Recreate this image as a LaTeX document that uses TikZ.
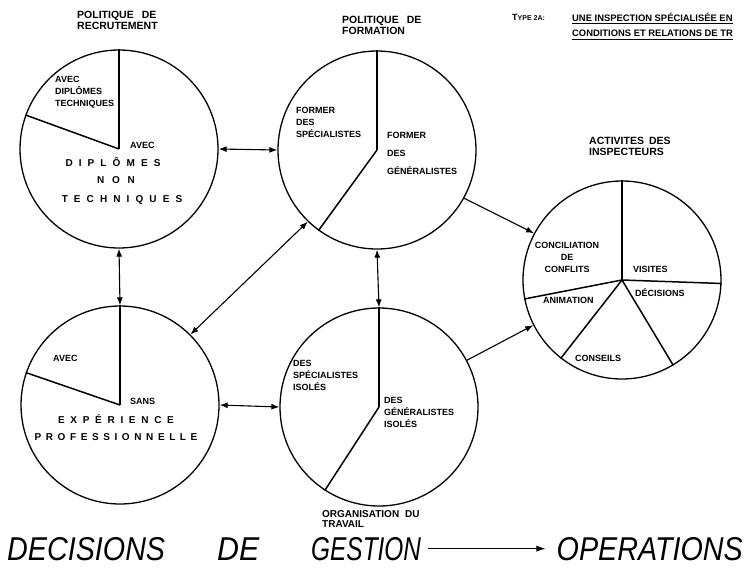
\documentclass[tikz,border=0pt]{standalone}
\usepackage{fontspec}
\setmainfont{Liberation Sans}
\usetikzlibrary{arrows.meta}
\tikzset{
  pie/.style={circle, draw, line width=1.3pt, minimum size=198pt, inner sep=0pt},
  seg/.style={line width=1.5pt},
  hd/.tip={Latex[length=8pt,width=6pt]},
  link/.style={line width=1.1pt, -hd},
  dlink/.style={line width=1.1pt, hd-hd},
  ttl/.style={font=\bfseries\fontsize{10.5}{11}\selectfont, align=left, inner sep=0pt, anchor=north west},
  lbl/.style={font=\bfseries\fontsize{9}{12}\selectfont, align=left, inner sep=0pt, anchor=north west},
  wide/.style={font=\bfseries\fontsize{10}{10}\selectfont\addfontfeature{LetterSpace=#1}, inner sep=0pt},
  big/.style={font=\itshape\fontsize{33}{33}\selectfont\addfontfeature{FakeStretch=#1}, inner sep=1pt, anchor=base west},
  head/.style={font=\bfseries\fontsize{9.4}{9.4}\selectfont, inner sep=0pt, anchor=west},
  uline/.style={line width=0.9pt},
}
\begin{document}
\begin{tikzpicture}[x=1pt,y=-1pt]
\path[fill=white] (0,0) rectangle (745,568);
\useasboundingbox (0,0) rectangle (745,568);

% circles
\node[pie] (c1) at (119,149) {};
\node[pie] (c2) at (377,150) {};
\node[pie] (c3) at (622,280) {};
\node[pie] (c4) at (120,405) {};
\node[pie] (c5) at (379,407) {};

% pie segments
\draw[seg] (c1.center) -- (c1.90);
\draw[seg] (c1.center) -- (c1.160);
\draw[seg] (c2.center) -- (c2.90);
\draw[seg] (c2.center) -- (c2.234);
\draw[seg] (c3.center) -- (c3.90);
\draw[seg] (c3.center) -- (c3.-2);
\draw[seg] (c3.center) -- (c3.-59);
\draw[seg] (c3.center) -- (c3.232);
\draw[seg] (c3.center) -- (c3.191);
\draw[seg] (c4.center) -- (c4.90);
\draw[seg] (c4.center) -- (c4.161);
\draw[seg] (c5.center) -- (c5.90);
\draw[seg] (c5.center) -- (c5.237);

% connectors
\draw[dlink] (c1.east) -- (c2.west);
\draw[dlink] (c1.south) -- (c4.north);
\draw[dlink] (c2.south) -- (c5.north);
\draw[dlink] (c4.east) -- (c5.west);
\draw[dlink] (c4.45) -- (c2.226);
\draw[link] (c2.-29) -- (c3.152);
\draw[link] (c5.28) -- (c3.207);

% titles
\node[ttl] (t1) at (77,11) {POLITIQUE\hspace{8pt}DE\\RECRUTEMENT};
\node[ttl] (t2) at (342,16) {POLITIQUE\hspace{8pt}DE\\FORMATION};
\node[ttl] (t3) at (589,137) {ACTIVITES\hspace{5pt}DES\\INSPECTEURS};
\node[ttl, font=\bfseries\fontsize{10}{10}\selectfont] (t5) at (322,510) {ORGANISATION\hspace{6pt}DU\\TRAVAIL};

% top-right heading
\node[font=\bfseries, inner sep=0pt, anchor=west] (ty) at (512,17)
  {{\fontsize{9}{9}\selectfont T}{\fontsize{7}{7}\selectfont YPE 2A:}};
\node[head] (h1) at (572,17) {UNE INSPECTION SPÉCIALISÉE EN};
\node[head] (h2) at (572,33) {CONDITIONS ET RELATIONS DE TR};
\draw[uline] ([yshift=-2.5pt]h1.south west) -- ([yshift=-2.5pt]h1.south east);
\draw[uline] ([yshift=-2.5pt]h2.south west) -- ([yshift=-2.5pt]h2.south east);

% circle 1 labels
\node[lbl] (a1) at (55,76) {AVEC\\DIPLÔMES\\TECHNIQUES};
\node[lbl] (a2) at (130,142) {AVEC};
\node[wide=61] (a3) at (113,162) {DIPLÔMES};
\node[wide=78] (a4) at (116,180) {NON};
\node[wide=61] (a5) at (122,200) {TECHNIQUES};

% circle 4 labels
\node[lbl] (b1) at (53,355) {AVEC};
\node[lbl] (b2) at (130,398) {SANS};
\node[wide=57] (b3) at (116,419) {EXPÉRIENCE};
\node[wide=46] (b4) at (116,437) {PROFESSIONNELLE};

% circle 2 labels
\node[lbl] (d1) at (296,107) {FORMER\\DES\\SPÉCIALISTES};
\node[lbl] (d2) at (387,132) {FORMER\\[6pt]DES\\[6pt]GÉNÉRALISTES};

% circle 5 labels
\node[lbl] (e1) at (293,360) {DES\\SPÉCIALISTES\\ISOLÉS};
\node[lbl] (e2) at (384,397) {DES\\GÉNÉRALISTES\\ISOLÉS};

% circle 3 labels
\node[lbl, align=center, anchor=center] (f1) at (567,257) {CONCILIATION\\DE\\CONFLITS};
\node[lbl, anchor=west] (f2) at (633,269) {VISITES};
\node[lbl, anchor=west] (f3) at (635,293) {DÉCISIONS};
\node[lbl, anchor=west] (f4) at (543,300) {ANIMATION};
\node[lbl, anchor=west] (f5) at (575,358) {CONSEILS};

% bottom line
\node[big=0.87] (g1) at (6,560) {DECISIONS};
\node[big=0.92] (g2) at (216,560) {DE};
\node[big=0.74] (g3) at (310,560) {GESTION};
\node[big=0.87, anchor=base east] (g4) at (744,560) {OPERATIONS};
\draw[line width=1pt, -{Latex[length=9pt,width=6pt]}] ([xshift=6pt]g3.east) -- ([xshift=-10pt]g4.west);
\end{tikzpicture}
\end{document}
